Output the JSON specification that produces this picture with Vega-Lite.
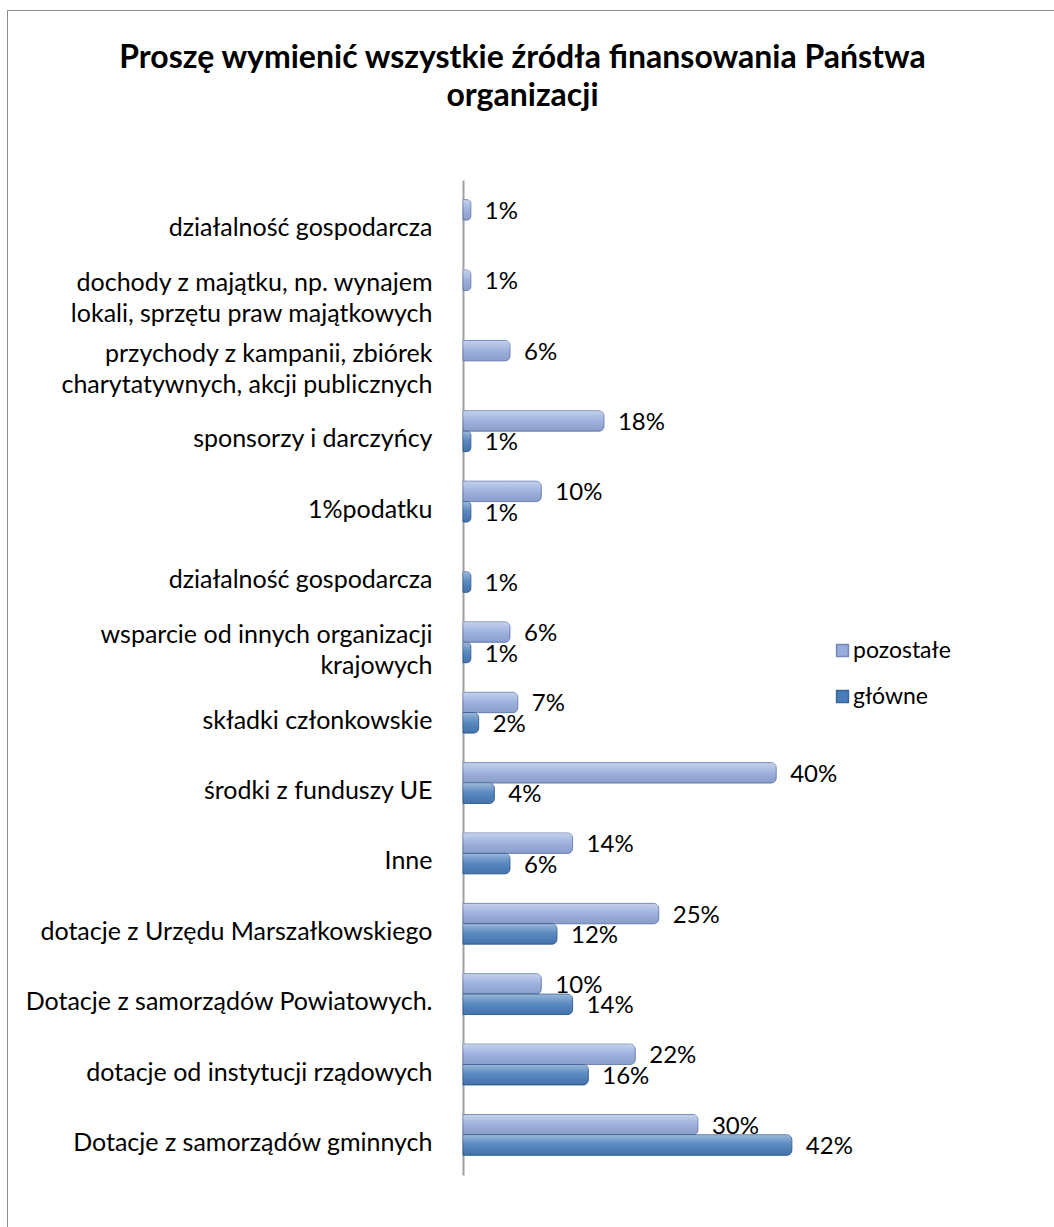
{
  "$schema": "https://vega.github.io/schema/vega-lite/v6.json",
  "width": 1047,
  "height": 1217,
  "autosize": {"type": "none"},
  "padding": {"left": 7, "top": 10, "right": 0, "bottom": 0},
  "background": "white",
  "title": {
    "text": ["Proszę wymienić wszystkie źródła finansowania Państwa", "organizacji"],
    "font": "Lato",
    "fontSize": 32,
    "fontWeight": "bold",
    "color": "#000000",
    "anchor": "middle",
    "offset": -103,
    "lineHeight": 38,
    "dx": -8
  },
  "data": {
    "values": [
      {"zrodlo": "01|działalność gospodarcza", "typ": "pozostałe", "procent": 0.01},
      {"zrodlo": "02|dochody z majątku, np. wynajem|lokali, sprzętu praw majątkowych", "typ": "pozostałe", "procent": 0.01},
      {"zrodlo": "03|przychody z kampanii, zbiórek|charytatywnych, akcji publicznych", "typ": "pozostałe", "procent": 0.06},
      {"zrodlo": "04|sponsorzy i darczyńcy", "typ": "pozostałe", "procent": 0.18},
      {"zrodlo": "04|sponsorzy i darczyńcy", "typ": "główne", "procent": 0.01},
      {"zrodlo": "05|1%podatku", "typ": "pozostałe", "procent": 0.10},
      {"zrodlo": "05|1%podatku", "typ": "główne", "procent": 0.01},
      {"zrodlo": "06|działalność gospodarcza", "typ": "główne", "procent": 0.01},
      {"zrodlo": "07|wsparcie od innych organizacji|krajowych", "typ": "pozostałe", "procent": 0.06},
      {"zrodlo": "07|wsparcie od innych organizacji|krajowych", "typ": "główne", "procent": 0.01},
      {"zrodlo": "08|składki członkowskie", "typ": "pozostałe", "procent": 0.07},
      {"zrodlo": "08|składki członkowskie", "typ": "główne", "procent": 0.02},
      {"zrodlo": "09|środki z funduszy UE", "typ": "pozostałe", "procent": 0.40},
      {"zrodlo": "09|środki z funduszy UE", "typ": "główne", "procent": 0.04},
      {"zrodlo": "10|Inne", "typ": "pozostałe", "procent": 0.14},
      {"zrodlo": "10|Inne", "typ": "główne", "procent": 0.06},
      {"zrodlo": "11|dotacje z Urzędu Marszałkowskiego", "typ": "pozostałe", "procent": 0.25},
      {"zrodlo": "11|dotacje z Urzędu Marszałkowskiego", "typ": "główne", "procent": 0.12},
      {"zrodlo": "12|Dotacje z samorządów Powiatowych.", "typ": "pozostałe", "procent": 0.10},
      {"zrodlo": "12|Dotacje z samorządów Powiatowych.", "typ": "główne", "procent": 0.14},
      {"zrodlo": "13|dotacje od instytucji rządowych", "typ": "pozostałe", "procent": 0.22},
      {"zrodlo": "13|dotacje od instytucji rządowych", "typ": "główne", "procent": 0.16},
      {"zrodlo": "14|Dotacje z samorządów gminnych", "typ": "pozostałe", "procent": 0.30},
      {"zrodlo": "14|Dotacje z samorządów gminnych", "typ": "główne", "procent": 0.42}
    ]
  },
  "encoding": {
    "y": {
      "field": "zrodlo",
      "type": "nominal",
      "sort": "ascending",
      "scale": {"range": [170, 1165], "paddingInner": 0.42, "paddingOuter": 0.28},
      "axis": {
        "title": null,
        "offset": -456,
        "domain": true,
        "domainColor": "#a0a0a0",
        "domainWidth": 2,
        "ticks": false,
        "grid": false,
        "labelPadding": 31,
        "labelOffset": {
          "condition": {"test": "indexof(datum.value, '|') != lastindexof(datum.value, '|')", "value": -7},
          "value": 8
        },
        "labelFont": "Lato",
        "labelFontSize": 25,
        "labelColor": "#000000",
        "labelLimit": 0,
        "labelLineHeight": 31,
        "labelAlign": "right",
        "labelBaseline": "middle",
        "labelExpr": "slice(split(datum.value, '|'), 1)"
      }
    },
    "yOffset": {
      "field": "typ",
      "type": "nominal",
      "sort": ["pozostałe", "główne"],
      "scale": {"paddingInner": 0, "paddingOuter": 0}
    },
    "x": {
      "field": "procent",
      "type": "quantitative",
      "scale": {"domain": [0, 0.45], "range": [456, 808.35], "nice": false, "zero": true},
      "axis": null
    }
  },
  "layer": [
    {
      "mark": {"type": "bar", "cornerRadiusEnd": 5, "strokeWidth": 1},
      "encoding": {
        "color": {
          "field": "typ",
          "type": "nominal",
          "scale": {"domain": ["pozostałe", "główne"], "range": ["#97ACDC", "#4A7EBB"]},
          "legend": {
            "orient": "none",
            "legendX": 824,
            "legendY": 629,
            "title": null,
            "symbolType": "square",
            "symbolSize": 140,
            "labelFont": "Lato",
            "labelFontSize": 23,
            "labelColor": "#000000",
            "rowPadding": 22,
            "labelOffset": -1,
            "padding": 0
          }
        },
        "stroke": {
          "field": "typ",
          "type": "nominal",
          "scale": {"domain": ["pozostałe", "główne"], "range": ["#7387B8", "#3A6497"]},
          "legend": null
        }
      }
    },
    {
      "mark": {
        "type": "bar",
        "cornerRadiusEnd": 5,
        "fill": {
          "gradient": "linear",
          "x1": 0, "y1": 0, "x2": 0, "y2": 1,
          "stops": [
            {"offset": 0, "color": "rgba(255,255,255,0.45)"},
            {"offset": 0.45, "color": "rgba(255,255,255,0.1)"},
            {"offset": 1, "color": "rgba(0,0,0,0.08)"}
          ]
        }
      }
    },
    {
      "mark": {"type": "text", "align": "left", "baseline": "middle", "dx": 14, "dy": 2, "font": "Lato", "fontSize": 24, "color": "#000000"},
      "encoding": {
        "text": {"field": "procent", "type": "quantitative", "format": ".0%"}
      }
    }
  ],
  "config": {
    "view": {"stroke": "#8a8a8a", "strokeWidth": 1}
  }
}
